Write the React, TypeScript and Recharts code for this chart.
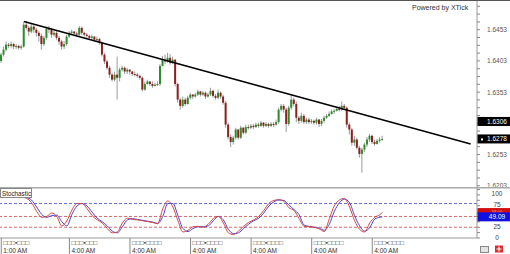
import React from 'react';
import { ComposedChart, Bar, Line, XAxis, YAxis, ReferenceLine } from 'recharts';

const FONT = '"Liberation Sans", Arial, sans-serif';

// ---------- price data (hourly candles) ----------
const FIRST_OPEN = 1.6403;
const closes = [
  1.6413, 1.6421, 1.6429, 1.6427, 1.643, 1.6426, 1.6427, 1.6424, 1.6426, 1.6461,
  1.6456, 1.645, 1.6458, 1.6453, 1.6448, 1.6443, 1.643, 1.644, 1.6455, 1.6453,
  1.6445, 1.6448, 1.644, 1.6434, 1.6426, 1.643, 1.6442, 1.6448, 1.645, 1.6447,
  1.6445, 1.6456, 1.6448, 1.6445, 1.6443, 1.644, 1.6442, 1.6437, 1.6438, 1.6432,
  1.6413, 1.6402, 1.6392, 1.6381, 1.6373, 1.6381, 1.6376, 1.6389, 1.6392, 1.6386,
  1.6389, 1.6386, 1.6382, 1.6381, 1.6379, 1.6376, 1.6357, 1.6366, 1.637, 1.6366,
  1.6363, 1.6365, 1.6366, 1.6395, 1.6405, 1.6402, 1.6408, 1.64, 1.6405, 1.6366,
  1.6341, 1.6331, 1.6341, 1.6334, 1.6344, 1.6349, 1.6346, 1.6349, 1.6354, 1.6349,
  1.6352, 1.6346, 1.6349, 1.6355, 1.6347, 1.6344, 1.6352, 1.6346, 1.6336, 1.6301,
  1.6281, 1.6273, 1.628, 1.6293, 1.628, 1.6296, 1.6288, 1.6297, 1.6296, 1.6299,
  1.6297, 1.6301, 1.6299, 1.6304, 1.6299, 1.6302, 1.6299, 1.6302, 1.6301, 1.6305,
  1.6325, 1.6331, 1.6325, 1.6302, 1.6328, 1.6341, 1.6334, 1.6312, 1.6307, 1.6315,
  1.6305, 1.6309, 1.6305, 1.6307, 1.6304, 1.6309, 1.6302, 1.6307, 1.6312, 1.6315,
  1.6318, 1.6322, 1.6323, 1.6326, 1.6325, 1.6331, 1.6328, 1.6301, 1.6293, 1.6272,
  1.6277, 1.6264, 1.6254, 1.6261, 1.6269, 1.6277, 1.6283, 1.6273, 1.627, 1.6275,
  1.6277, 1.6278,
];
const highs = [
  1.6416, 1.6426, 1.6434, 1.6432, 1.6434, 1.6432, 1.643, 1.6429, 1.6429, 1.6466,
  1.6467, 1.6459, 1.6463, 1.6461, 1.6456, 1.6451, 1.6447, 1.6443, 1.6458, 1.6459,
  1.6456, 1.6453, 1.6451, 1.6443, 1.6437, 1.6435, 1.6445, 1.6451, 1.6453, 1.6451,
  1.645, 1.6459, 1.6458, 1.645, 1.6448, 1.6445, 1.6445, 1.6443, 1.6442, 1.644,
  1.6434, 1.6416, 1.6405, 1.6395, 1.6384, 1.6386, 1.641, 1.6392, 1.6395, 1.6394,
  1.6392, 1.639, 1.6387, 1.6386, 1.6384, 1.6381, 1.6378, 1.637, 1.6373, 1.6371,
  1.637, 1.6368, 1.637, 1.6398, 1.6411, 1.6413, 1.6416, 1.6414, 1.641, 1.6406,
  1.6368, 1.6344, 1.6346, 1.6344, 1.6347, 1.6352, 1.635, 1.6352, 1.6357, 1.6355,
  1.6355, 1.6354, 1.6352, 1.636, 1.6357, 1.635, 1.6357, 1.6354, 1.6349, 1.6339,
  1.6304, 1.6285, 1.6283, 1.6296, 1.6294, 1.6299, 1.6297, 1.6301, 1.6301, 1.6302,
  1.6302, 1.6304, 1.6304, 1.6307, 1.6305, 1.6305, 1.6304, 1.6305, 1.6305, 1.6309,
  1.6328, 1.6334, 1.6334, 1.6328, 1.6331, 1.6349, 1.6344, 1.6338, 1.6315, 1.632,
  1.6318, 1.6312, 1.6312, 1.631, 1.6309, 1.6312, 1.631, 1.631, 1.6315, 1.6318,
  1.6322, 1.6325, 1.6326, 1.633, 1.6331, 1.6338, 1.6334, 1.633, 1.6304, 1.6296,
  1.6283, 1.628, 1.6267, 1.6264, 1.6272, 1.6281, 1.6286, 1.6285, 1.6277, 1.6278,
  1.6281, 1.6283,
];
const lows = [
  1.64, 1.641, 1.6418, 1.6424, 1.6424, 1.6422, 1.6422, 1.6421, 1.6421, 1.6424,
  1.6453, 1.6443, 1.6447, 1.6448, 1.6442, 1.6434, 1.6421, 1.6427, 1.6437, 1.6448,
  1.644, 1.6442, 1.6437, 1.6429, 1.6421, 1.6422, 1.6427, 1.644, 1.6445, 1.6443,
  1.6442, 1.6443, 1.6445, 1.6442, 1.644, 1.6437, 1.6437, 1.6434, 1.6434, 1.6429,
  1.641, 1.6398, 1.6389, 1.6376, 1.637, 1.637, 1.6341, 1.637, 1.6386, 1.6382,
  1.6382, 1.6381, 1.6379, 1.6378, 1.6376, 1.6373, 1.6354, 1.6355, 1.6365, 1.6363,
  1.636, 1.6362, 1.6363, 1.6363, 1.6394, 1.6398, 1.64, 1.6397, 1.6398, 1.6362,
  1.6336, 1.6325, 1.6328, 1.6331, 1.6333, 1.6341, 1.6342, 1.6344, 1.6347, 1.6346,
  1.6347, 1.6342, 1.6344, 1.6347, 1.6344, 1.6341, 1.6342, 1.6342, 1.6333, 1.6296,
  1.6277, 1.6265, 1.6269, 1.6277, 1.6277, 1.6278, 1.6285, 1.6286, 1.6293, 1.6294,
  1.6294, 1.6296, 1.6296, 1.6297, 1.6296, 1.6297, 1.6296, 1.6297, 1.6297, 1.6299,
  1.6302, 1.6322, 1.632, 1.6289, 1.6299, 1.6325, 1.633, 1.6305, 1.6302, 1.6304,
  1.6302, 1.6302, 1.6302, 1.6302, 1.6301, 1.6301, 1.6297, 1.6299, 1.6304, 1.631,
  1.6313, 1.6317, 1.6318, 1.6322, 1.6322, 1.6323, 1.6325, 1.6296, 1.6285, 1.6267,
  1.6267, 1.6261, 1.6248, 1.6224, 1.6257, 1.6265, 1.6273, 1.627, 1.6267, 1.6269,
  1.6272, 1.6275,
];

const TOTAL_SLOTS = 189;
const PRICE_MIN = 1.6201;
const PRICE_MAX = 1.6499;
const priceLabels = [1.6203, 1.6253, 1.6353, 1.6403, 1.6453];
const HIGHLIGHT_LEVEL = 1.6306;
const LAST_PRICE = 1.6278;

const trendStart = { slot: 9, price: 1.6466 };
const trendEnd = { slot: 186, price: 1.627 };

// ---------- stochastic ----------
const stochK = [
  96, 100, 98, 96, 95, 92, 82, 62, 48, 50,
  58, 50, 28, 40, 65, 80, 80, 68, 52, 42,
  35, 22, 12, 14, 35, 46, 43, 42, 40, 38,
  36, 33, 68, 86, 72, 40, 14, 18, 26, 27,
  25, 32, 45, 50, 35, 12, 8, 16, 27, 36,
  42, 50, 64, 80, 87, 89, 85, 70, 64, 45,
  27, 26, 25, 21, 15, 45, 75, 88, 92, 72,
  40, 20, 14, 35, 48, 54, 59,
];
const stochD = [
  94, 98, 99, 97, 96, 94, 88, 72, 55, 48,
  52, 53, 38, 28, 55, 74, 80, 74, 60, 46,
  38, 28, 16, 12, 26, 42, 45, 43, 41, 39,
  37, 34, 50, 80, 80, 52, 22, 15, 22, 26,
  26, 28, 40, 50, 42, 20, 10, 12, 22, 32,
  40, 46, 58, 74, 84, 88, 87, 76, 66, 54,
  30, 27, 25, 23, 18, 32, 62, 82, 90, 82,
  52, 28, 16, 24, 44, 48, 49.09,
];
const stochSlots = [...Array.from({ length: 76 }, (_, i) => i * 2), 151];
const stochLabels = [0, 25, 75, 100];
const STOCH_UPPER = 80;
const STOCH_MID = 50;
const STOCH_LOWER = 25;

// ---------- time axis ----------
const timeTickSlots = [0, 27, 51, 75, 99, 123, 147];
const timeLabels = ['1:00 AM', '4:00 AM', '4:00 AM', '4:00 AM', '4:00 AM', '4:00 AM', '4:00 AM'];
const dateLabels = ['□□□▪□□□', '□□□▪□□□', '□□□▪□□□□', '□□□▪□□□□', '□□□▪□□□□', '□□□▪□□□□', '□□□▪□□□□'];

// ---------- derived tables ----------
const candleData = Array.from({ length: TOTAL_SLOTS }, (_, i) => {
  if (i < closes.length) {
    const open = i === 0 ? FIRST_OPEN : closes[i - 1];
    return { slot: i, open, close: closes[i], high: highs[i], low: lows[i], range: [lows[i], highs[i]] };
  }
  return { slot: i };
});
const stochData = stochSlots.map((s, i) => ({ slot: s, k: stochK[i], d: stochD[i] }));

const near = (a: number, b: number) => Math.abs(a - b) < 1e-7;
const priceMinor: number[] = [];
for (let k = 0; k < 24; k++) priceMinor.push(Number((1.6203 + k * 0.00125).toFixed(5)));
const priceAxisTicks = [
  ...priceMinor.filter((v) => !near(v, LAST_PRICE) && !near(v, HIGHLIGHT_LEVEL)),
  HIGHLIGHT_LEVEL,
  LAST_PRICE,
];
const leftPriceTicks: number[] = [];
for (let k = 0; k < 30; k++) leftPriceTicks.push(Number((1.6205 + k * 0.001).toFixed(5)));

const lastK = stochK[stochK.length - 1];
const lastD = stochD[stochD.length - 1];
const stochMinor = [0, 12.5, 25, 37.5, 50, 62.5, 75, 87.5, 100, 112.5];
const stochAxisTicks = [...stochMinor, lastK, lastD];
const stochLeftTicks = [5, 19, 33, 47, 61, 75, 89, 103];

// ---------- renderers ----------
const Candle = (props: any) => {
  const { x, y, width, height, payload } = props;
  if (!payload || payload.high == null) return <g />;
  const { open, close, high, low } = payload;
  const top = Math.min(y, y + height);
  const h = Math.abs(height);
  const span = high - low;
  const k = span > 0 ? h / span : 0;
  const cx = x + width / 2;
  const bTop = top + (high - Math.max(open, close)) * k;
  const bBot = top + (high - Math.min(open, close)) * k;
  const up = close >= open;
  return (
    <g>
      <line x1={cx} x2={cx} y1={top} y2={top + h} stroke="#9a9a9a" strokeWidth={1} />
      <rect x={cx - 1} y={bTop} width={2} height={Math.max(1, bBot - bTop)} fill={up ? '#2e8b2e' : '#8e1f1f'} />
    </g>
  );
};

const PriceTick = (props: any) => {
  const { y, payload } = props;
  const v = payload.value;
  if (near(v, HIGHLIGHT_LEVEL) || near(v, LAST_PRICE)) {
    const isLast = near(v, LAST_PRICE);
    return (
      <g>
        <rect x={477.5} y={y - 4.5} width={33} height={9} fill="#000" />
        {isLast && <rect x={481} y={y - 0.5} width={2} height={2} fill="#fff" />}
        <text x={497} y={y + 2.4} fill="#fff" fontSize={6.5} fontFamily={FONT} textAnchor="middle">
          {v.toFixed(4)}
        </text>
      </g>
    );
  }
  const major = priceLabels.some((p) => near(p, v));
  return (
    <g>
      <line x1={477} x2={480} y1={y} y2={y} stroke="#888" />
      {major && (
        <text x={497} y={y + 2.4} fill="#555" fontSize={6.5} fontFamily={FONT} textAnchor="middle">
          {v.toFixed(4)}
        </text>
      )}
    </g>
  );
};

const LeftTick = (props: any) => <line x1={0} x2={3} y1={props.y} y2={props.y} stroke="#999" />;

const StochTick = (props: any) => {
  const { y, payload } = props;
  const v = payload.value;
  if (v === lastD) {
    return (
      <g>
        <rect x={477.5} y={y - 4.5} width={33} height={9} fill="#1010e0" />
        <text x={497} y={y + 2.4} fill="#fff" fontSize={6.5} fontFamily={FONT} textAnchor="middle">
          {v.toFixed(2)}
        </text>
      </g>
    );
  }
  if (v === lastK) {
    return (
      <g>
        <rect x={477.5} y={y - 4.5} width={33} height={6} fill="#d01010" />
        <text x={497} y={y + 0.6} fill="#f0a0a0" fontSize={4.2} fontFamily={FONT} textAnchor="middle">
          {v.toFixed(2)}
        </text>
      </g>
    );
  }
  const major = stochLabels.includes(v);
  return (
    <g>
      <line x1={477} x2={480} y1={y} y2={y} stroke="#888" />
      {major && (
        <text x={497} y={y + 1.6} fill="#444" fontSize={6.5} fontFamily={FONT} textAnchor="middle">
          {String(v)}
        </text>
      )}
    </g>
  );
};

const TimeTick = (props: any) => {
  const { x, y, payload } = props;
  const i = timeTickSlots.indexOf(payload.value);
  if (i < 0) return <g />;
  return (
    <g>
      <line x1={x} x2={x} y1={y} y2={y + 16} stroke="#888" />
      <text x={x + 2} y={y + 6.5} fontSize={6.5} fontFamily={FONT} fill="#444">
        {dateLabels[i]}
      </text>
      <text x={x + 2} y={y + 14.5} fontSize={6.5} fontFamily={FONT} fill="#333">
        {timeLabels[i]}
      </text>
    </g>
  );
};

export default function App() {
  return (
    <div style={{ position: 'absolute', left: 0, top: 0, width: 510, height: 254, background: '#fff', overflow: 'hidden' }}>
      <div style={{ position: 'absolute', left: 0, top: 0 }}>
        <ComposedChart width={510} height={188} data={candleData} margin={{ top: 1, right: 0, bottom: 1, left: 0 }} barCategoryGap={0}>
          <XAxis dataKey="slot" type="category" hide />
          <YAxis
            yAxisId="price"
            orientation="right"
            type="number"
            width={33}
            domain={[PRICE_MIN, PRICE_MAX]}
            allowDataOverflow
            ticks={priceAxisTicks}
            interval={0}
            tickLine={false}
            axisLine={{ stroke: '#999' }}
            tick={(p: any) => <PriceTick {...p} />}
          />
          <YAxis
            yAxisId="pl"
            orientation="left"
            type="number"
            width={0}
            domain={[PRICE_MIN, PRICE_MAX]}
            allowDataOverflow
            ticks={leftPriceTicks}
            interval={0}
            tickLine={false}
            axisLine={false}
            tick={(p: any) => <LeftTick {...p} />}
          />
          <Bar yAxisId="price" dataKey="range" barSize={2} isAnimationActive={false} shape={(p: any) => <Candle {...p} />} />
          <ReferenceLine
            yAxisId="price"
            segment={[
              { x: trendStart.slot, y: trendStart.price },
              { x: trendEnd.slot, y: trendEnd.price },
            ]}
            stroke="#000"
            strokeWidth={1.6}
          />
        </ComposedChart>
      </div>
      <div style={{ position: 'absolute', left: 0, top: 188 }}>
        <ComposedChart width={510} height={66} data={stochData} margin={{ top: 0, right: 0, bottom: 0, left: 0 }}>
          <XAxis
            dataKey="slot"
            type="number"
            domain={[-0.5, TOTAL_SLOTS - 0.5]}
            allowDataOverflow
            ticks={timeTickSlots}
            interval={0}
            height={16}
            tickSize={0}
            tickMargin={0}
            tickLine={false}
            axisLine={{ stroke: '#999' }}
            tick={(p: any) => <TimeTick {...p} />}
          />
          <YAxis
            yAxisId="st"
            orientation="right"
            type="number"
            width={33}
            domain={[0, 116]}
            allowDataOverflow
            ticks={stochAxisTicks}
            interval={0}
            tickLine={false}
            axisLine={{ stroke: '#999' }}
            tick={(p: any) => <StochTick {...p} />}
          />
          <YAxis
            yAxisId="sl"
            orientation="left"
            type="number"
            width={0}
            domain={[0, 116]}
            allowDataOverflow
            ticks={stochLeftTicks}
            interval={0}
            tickLine={false}
            axisLine={false}
            tick={(p: any) => <LeftTick {...p} />}
          />
          <ReferenceLine yAxisId="st" y={STOCH_UPPER} stroke="#6b6bd6" strokeDasharray="3 2" />
          <ReferenceLine yAxisId="st" y={STOCH_MID} stroke="#d66b6b" strokeDasharray="3 2" />
          <ReferenceLine yAxisId="st" y={STOCH_LOWER} stroke="#d66b6b" strokeDasharray="3 2" />
          <Line yAxisId="st" dataKey="d" type="monotone" stroke="#4646d2" strokeWidth={1} dot={false} isAnimationActive={false} />
          <Line yAxisId="st" dataKey="k" type="monotone" stroke="#d24646" strokeWidth={1} dot={false} isAnimationActive={false} />
        </ComposedChart>
      </div>
      <svg width={510} height={254} style={{ position: 'absolute', left: 0, top: 0, pointerEvents: 'none' }}>
        <line x1={0} x2={510} y1={0.5} y2={0.5} stroke="#555" />
        <rect x={0} y={187} width={510} height={1.5} fill="#aaa" />
        <text x={412} y={10} fontSize={7} fontFamily={FONT} fill="#333">Powered by XTick</text>
        <rect x={0.5} y={188.5} width={31} height={9} fill="#fff" stroke="#888" />
        <text x={2} y={195.5} fontSize={6.3} fontFamily={FONT} fill="#222">Stochastic</text>
        <rect x={480.5} y={246.5} width={8} height={6} fill="#e4e4e4" stroke="#888" />
        <rect x={495} y={245.5} width={8} height={7} fill="#d83030" />
        <line x1={499} x2={499} y1={246.5} y2={251.5} stroke="#fff" />
        <line x1={496.5} x2={501.5} y1={249} y2={249} stroke="#fff" />
      </svg>
    </div>
  );
}
